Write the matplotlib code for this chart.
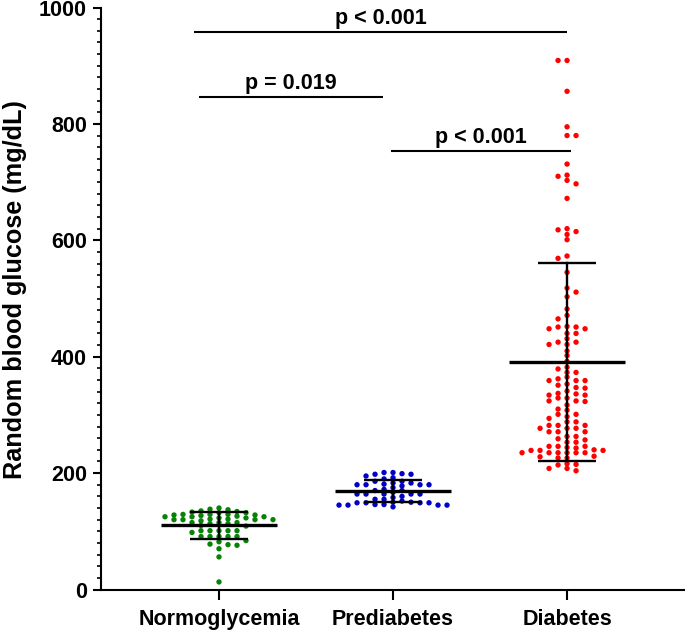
import numpy as np
import matplotlib
matplotlib.use("Agg")
import matplotlib.pyplot as plt

plt.rcParams['font.family'] = ['Liberation Sans', 'DejaVu Sans']
plt.rcParams['font.weight'] = 'bold'

# ---------------- data ----------------
categories = ["Normoglycemia", "Prediabetes", "Diabetes"]
colors = ["#078207", "#0000C8", "#FF0000"]

normoglycemia = [133, 134, 125, 128, 121, 115, 125, 115, 125, 115, 101, 91,
                 137, 129, 120, 101, 91, 82, 132, 123, 113, 101, 91, 77, 70,
                 56, 13, 135, 126, 121, 101, 91, 76, 140, 128, 120, 101, 91,
                 78, 138, 129, 120, 110, 98, 84, 132, 123, 113, 127, 118, 109,
                 129, 120]

prediabetes = [150, 145, 152, 183, 183, 198, 181, 170, 149, 198, 180, 158,
               149, 195, 180, 164, 142, 201, 180, 170, 146, 192, 164, 149,
               201, 175, 164, 146, 199, 180, 164, 149, 145, 186, 164, 155,
               145, 186, 155, 145, 150, 190, 172, 160, 178, 167]

diabetes = [909, 909, 856, 795, 780, 780, 731, 712, 710, 703, 697, 672, 620,
            618, 615, 610, 601, 573, 569, 545, 518, 482,
            511, 503, 471, 465, 451, 451, 452, 448, 448, 440, 440, 431, 425,
            425, 421, 421, 410, 402, 392, 382, 379, 373, 373, 365, 359, 359,
            359, 362, 353, 351, 347, 346, 341, 334, 334, 337, 336, 329, 329,
            324, 324, 323, 317, 310, 308, 301, 301, 297, 294, 288, 288, 282,
            282, 282, 277, 277, 277, 271, 271, 271, 263, 263, 259, 257, 253,
            253, 246, 246, 246, 244, 239, 239, 239, 243, 240, 235, 235, 235,
            235, 235, 235, 229, 228, 226, 226, 216, 214, 215, 208, 208, 204]

group_means = [110, 169, 391]
group_sds = [23.5, 19, 170]

# significance comparisons: (group a, group b, label)
comparisons = [(0, 2, "p < 0.001"), (0, 1, "p = 0.019"), (1, 2, "p < 0.001")]
bracket_heights = [958, 847, 754]
bracket_x = [(-0.144, 2.0), (-0.115, 0.94), (0.99, 2.02)]

yticks = [0, 200, 400, 600, 800, 1000]

# ---------------- figure ----------------
W, H = 685, 633
TOP = 7.5
fig = plt.figure(figsize=(W / 100, H / 100), dpi=100)
ax = fig.add_axes([101 / W, 1 - 589.5 / H, (684 - 101) / W, (589.5 - TOP) / H])
ax.set_xlim(-0.678, 2.672)
ax.set_ylim(0, 1000)

px_per_x = (684 - 101) / (2.672 + 0.678)
px_per_y = (589.5 - TOP) / 1000.0


def swarm(values, center, step_px=9.0, min_dy_px=4.6):
    vals = np.asarray(values, dtype=float)
    order = np.argsort(-vals)
    cols = {}
    xs = np.zeros(len(vals))
    step = step_px / px_per_x
    min_dy = min_dy_px / px_per_y
    for i in order:
        v = vals[i]
        j = 0
        chosen = None
        while chosen is None:
            cands = [0] if j == 0 else [-j, j]
            cands = sorted(cands, key=lambda c: len(cols.get(c, [])))
            for c in cands:
                if all(abs(v - w) >= min_dy for w in cols.get(c, [])):
                    chosen = c
                    break
            j += 1
        cols.setdefault(chosen, []).append(v)
        xs[i] = center + chosen * step
    return xs, vals


groups = [normoglycemia, prediabetes, diabetes]
for gi, (vals, col) in enumerate(zip(groups, colors)):
    xs, ys = swarm(vals, gi)
    ax.scatter(xs, ys, s=15, color=col, edgecolors='none', zorder=2)

# mean and SD
mean_half = 58 / px_per_x
cap_half = 29 / px_per_x
for gi, (m, sd) in enumerate(zip(group_means, group_sds)):
    ax.plot([gi - mean_half, gi + mean_half], [m, m], color='black', lw=2.4,
            solid_capstyle='butt', zorder=3)
    ax.plot([gi, gi], [m - sd, m + sd], color='black', lw=1.7, zorder=3)
    for yv in (m - sd, m + sd):
        ax.plot([gi - cap_half, gi + cap_half], [yv, yv], color='black',
                lw=1.7, solid_capstyle='butt', zorder=3)

# significance brackets
for (a, b, lab), h, (x0, x1) in zip(comparisons, bracket_heights, bracket_x):
    ax.plot([x0, x1], [h, h], color='black', lw=1.5, solid_capstyle='butt',
            clip_on=False)
    ax.annotate(lab, xy=((x0 + x1) / 2, h), xytext=(0, 5.5),
                textcoords='offset points', ha='center', va='baseline',
                fontsize=15.5, fontweight='bold', annotation_clip=False)

# axes styling
for s in ('top', 'right'):
    ax.spines[s].set_visible(False)
for s in ('left', 'bottom'):
    ax.spines[s].set_linewidth(1.5)

ax.set_xticks(range(len(categories)))
ax.set_xticklabels(categories, fontsize=15.5, fontweight='bold')
ax.set_yticks(yticks)
ax.set_yticklabels([str(t) for t in yticks], fontsize=15.5, fontweight='bold')
ax.set_yticks(np.arange(0, 1001, 20), minor=True)
ax.tick_params(axis='y', which='major', length=5.5, width=1.5, pad=4.5)
ax.tick_params(axis='y', which='minor', length=3.2, width=1.2)
ax.tick_params(axis='x', which='major', length=7, width=1.5, pad=7)
ax.tick_params(axis='x', which='minor', bottom=False)

ax.set_ylabel("Random blood glucose (mg/dL)", fontsize=18.2, fontweight='bold')
ax.yaxis.set_label_coords(-(101 - 27) / (684 - 101), 0.515)

fig.savefig("out.png", dpi=100)
